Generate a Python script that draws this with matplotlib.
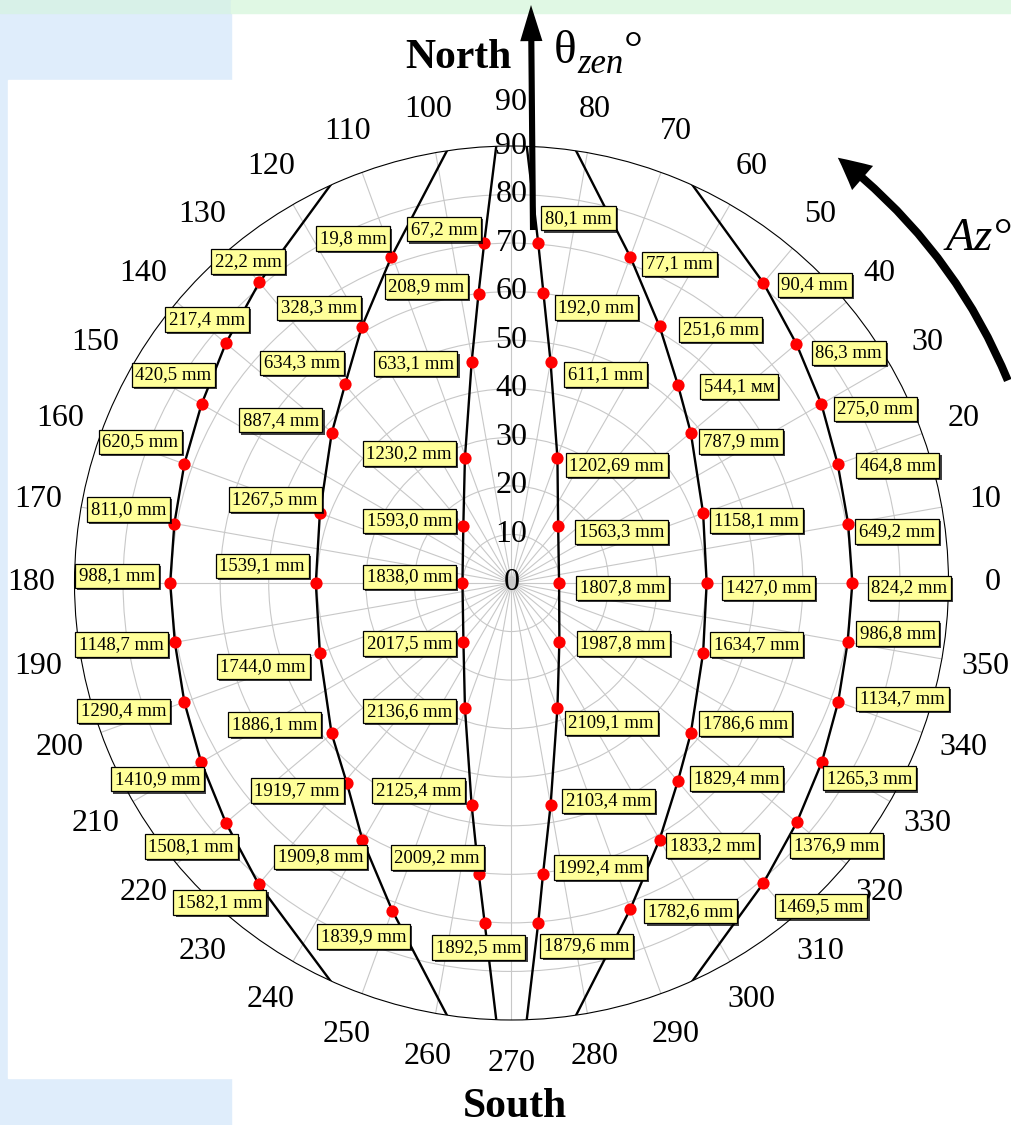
import numpy as np
import matplotlib.pyplot as plt
import matplotlib.patheffects as pe
from matplotlib.patches import Rectangle

plt.rcParams['font.family'] = ['Liberation Serif', 'DejaVu Serif']

W, H = 1012, 1125

# measuring points: azimuth (deg), zenith angle (deg), value label
# each curve also meets the horizon (zen = 90) at two azimuths (ends)
az_1 = [50, 40, 30, 20, 10, 0, 350, 340, 330, 320, 310]
zen_1 = [80.7, 76.6, 73.7, 71.5, 70.4, 70.2, 70.3, 71.6, 73.8, 76.7, 80.7]
lbl_1 = ['90,4 mm', '86,3 mm', '275,0 mm', '464,8 mm', '649,2 mm', '824,2 mm',
         '986,8 mm', '1134,7 mm', '1265,3 mm', '1376,9 mm', '1469,5 mm']
ends_1 = [65.5, 294.5]

az_2 = [70, 60, 50, 40, 20, 0, 340, 320, 310, 300, 290]
zen_2 = [71.5, 61.0, 53.3, 48.2, 42.0, 40.2, 42.0, 48.2, 53.3, 61.0, 71.5]
lbl_2 = ['77,1 mm', '251,6 mm', '544,1 мм', '787,9 mm', '1158,1 mm', '1427,0 mm',
         '1634,7 mm', '1786,6 mm', '1829,4 mm', '1833,2 mm', '1782,6 mm']
ends_2 = [81.5, 278.5]

az_3 = [85.5, 83.7, 80.0, 69.8, 50.8, 0, 309.2, 290.2, 280.0, 276.2, 274.5]
zen_3 = [70.2, 60.0, 46.3, 27.4, 15.2, 9.8, 15.6, 27.4, 46.4, 60.2, 70.2]
lbl_3 = ['80,1 mm', '192,0 mm', '611,1 mm', '1202,69 mm', '1563,3 mm', '1807,8 mm',
         '1987,8 mm', '2109,1 mm', '2103,4 mm', '1992,4 mm', '1879,6 mm']
ends_3 = [88.0, 272.0]

az_4 = [94.6, 96.5, 100.2, 110.5, 130.1, 180, 230.6, 249.6, 259.8, 263.6, 265.5]
zen_4 = [70.2, 60.0, 46.3, 27.4, 15.4, 10.1, 15.6, 27.5, 46.4, 60.4, 70.3]
lbl_4 = ['67,2 mm', '208,9 mm', '633,1 mm', '1230,2 mm', '1593,0 mm', '1838,0 mm',
         '2017,5 mm', '2136,6 mm', '2125,4 mm', '2009,2 mm', '1892,5 mm']
ends_4 = [92.0, 268.0]

az_5 = [110.2, 120.3, 129.9, 140.2, 160, 180, 200, 219.9, 230.6, 239.9, 250.0]
zen_5 = [71.6, 61.1, 53.4, 48.2, 42.0, 40.3, 42.0, 48.3, 53.4, 61.2, 71.8]
lbl_5 = ['19,8 mm', '328,3 mm', '634,3 mm', '887,4 mm', '1267,5 mm', '1539,1 mm',
         '1744,0 mm', '1886,1 mm', '1919,7 mm', '1909,8 mm', '1839,9 mm']
ends_5 = [98.5, 261.5]

az_6 = [130, 140, 150, 160, 170, 180, 190, 200, 210, 220, 230]
zen_6 = [80.8, 76.8, 73.7, 71.7, 70.5, 70.3, 70.4, 71.7, 73.8, 76.8, 81.0]
lbl_6 = ['22,2 mm', '217,4 mm', '420,5 mm', '620,5 mm', '811,0 mm', '988,1 mm',
         '1148,7 mm', '1290,4 mm', '1410,9 mm', '1508,1 mm', '1582,1 mm']
ends_6 = [114.5, 245.5]

theta_ticks = list(range(0, 360, 10))
r_ticks = list(range(0, 100, 10))

# label box placement (pixels from the dot: right, down) - layout only
off_1 = [(15, 2), (16, 9), (13, 5), (19, 1), (8, 8), (16, 5), (9, -9), (19, -3), (2, 16), (-6, 23), (12, 23)]
off_2 = [(13, 7), (20, 3), (23, 2), (9, 9), (8, 7), (16, 5), (8, -8), (9, -10), (13, -3), (7, 6), (15, 2)]
off_3 = [(4, -25), (12, 14), (14, 13), (9, 7), (18, 6), (18, 5), (18, 2), (8, 15), (12, -4), (12, -6), (3, 23)]
off_4 = [(-4, -14), (-11, -7), (-15, 2), (-10, -5), (-8, -5), (-7, -6), (-8, 2), (-10, 3), (-7, -14), (4, -17), (40, 24)]
off_5 = [(-2, -18), (-2, -19), (-2, -21), (-10, -13), (1, -14), (-8, -17), (-11, 14), (-11, -9), (-4, 7), (4, 17), (17, 26)]
off_6 = [(25, -21), (22, -24), (13, -29), (-3, -22), (-5, -14), (-12, -7), (-8, 2), (-15, 9), (2, 17), (11, 24), (7, 18)]

curves = [
    (az_1, zen_1, lbl_1, ends_1, off_1, 'left'),
    (az_2, zen_2, lbl_2, ends_2, off_2, 'left'),
    (az_3, zen_3, lbl_3, ends_3, off_3, 'left'),
    (az_4, zen_4, lbl_4, ends_4, off_4, 'right'),
    (az_5, zen_5, lbl_5, ends_5, off_5, 'right'),
    (az_6, zen_6, lbl_6, ends_6, off_6, 'right'),
]

fig = plt.figure(figsize=(W / 100, H / 100), dpi=100)

# page background
fig.patches.append(Rectangle((0, 0), 231 / W, 1, transform=fig.transFigure,
                             color='#DFEDFB', zorder=-10))
fig.patches.append(Rectangle((8 / W, 1 - 1078 / H), 1, 998 / H, transform=fig.transFigure,
                             color='white', zorder=-9))
fig.patches.append(Rectangle((0, 1 - 13 / H), 231 / W, 13 / H, transform=fig.transFigure,
                             color='#D8F1E8', zorder=-8))
fig.patches.append(Rectangle((231 / W, 1 - 13 / H), 1, 13 / H, transform=fig.transFigure,
                             color='#E0F8E4', zorder=-8))

ax = fig.add_axes([74.5 / W, 105 / H, 874 / W, 874 / H], projection='polar')
ax.set_facecolor('white')
ax.set_ylim(0, 90)
ax.set_thetagrids(theta_ticks, labels=[str(t) for t in theta_ticks], fontsize=23)
ax.set_rgrids(r_ticks[1:-1], labels=[''] * len(r_ticks[1:-1]))
ax.tick_params(axis='x', pad=24.5, length=0)
ax.grid(True, color='#C8C8C8', lw=0.8)
ax.spines['polar'].set_linewidth(0.8)
ax.spines['polar'].set_color('k')

for r in r_ticks:
    ax.text(np.pi / 2, r, str(r), ha='center', va='center', fontsize=23, zorder=2.5)

for az, zen, lbl, ends, offs, side in curves:
    th = np.unwrap(np.radians([ends[0]] + az + [ends[1]]))
    ax.plot(th, [90] + zen + [90], color='k', lw=1.7, zorder=3)
    ax.plot(np.radians(az), zen, 'o', color='red', ms=8.8, mec='none', zorder=4)
    for a, z, t, (dx, dy) in zip(az, zen, lbl, offs):
        dx = dx + 3 if side == 'left' else dx - 3
        ann = ax.annotate(t, xy=(np.radians(a), z), xytext=(dx, -dy), textcoords='offset pixels',
                          ha=side, va='center', fontsize=13.5, zorder=5,
                          bbox=dict(boxstyle='square,pad=0.2', fc='#FFFF99', ec='k', lw=0.9))
        ann.get_bbox_patch().set_path_effects(
            [pe.withSimplePatchShadow(offset=(1.5, -1.5), shadow_rgbFace='k', alpha=0.75)])

# azimuth direction arrow
ax.annotate('', xy=(np.radians(52.5), 110.4), xytext=(np.radians(22.2), 110.4),
            annotation_clip=False, zorder=6,
            arrowprops=dict(arrowstyle='simple,tail_width=0.24,head_width=0.96,head_length=0.96',
                            mutation_scale=24, fc='k', ec='none', shrinkA=0, shrinkB=0,
                            connectionstyle='arc3,rad=0.133'))

# north arrow
ax.annotate('', xy=(531 / W, 1 - 5 / H), xycoords='figure fraction',
            xytext=(533 / W, 1 - 230 / H), textcoords='figure fraction',
            annotation_clip=False, zorder=6,
            arrowprops=dict(arrowstyle='simple,tail_width=0.22,head_width=0.8,head_length=1.3',
                            mutation_scale=20, fc='k', ec='none', shrinkA=0, shrinkB=0))

fig.text(512 / W, 1 - 68 / H, 'North', ha='right', va='baseline', fontsize=30, fontweight='bold')
fig.text(515 / W, 1 - 1117 / H, 'South', ha='center', va='baseline', fontsize=30, fontweight='bold')
fig.text(554 / W, 1 - 63 / H, 'θ', ha='left', va='baseline', fontsize=34)
fig.text(577 / W, 1 - 73 / H, 'zen', ha='left', va='baseline', fontsize=25, style='italic')
fig.text(624 / W, 1 - 63 / H, '°', ha='left', va='baseline', fontsize=34)
fig.text(946 / W, 1 - 250 / H, 'Az°', ha='left', va='baseline', fontsize=34, style='italic')

fig.savefig('out.png', dpi=100)
